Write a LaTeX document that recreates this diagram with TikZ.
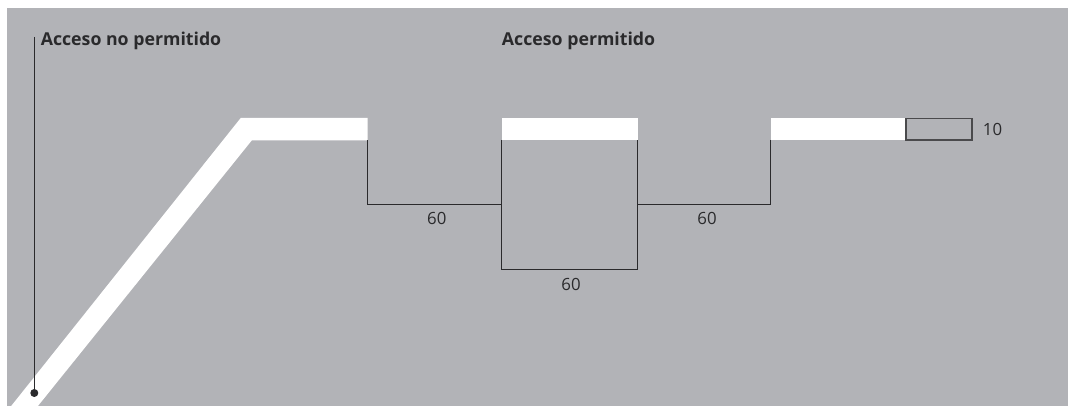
\documentclass[tikz,border=0pt]{standalone}
\usepackage{fontspec}
\setmainfont{Open Sans}
\definecolor{bg}{HTML}{B2B3B7}
\definecolor{ink}{HTML}{2A2A2C}
\definecolor{boxline}{HTML}{4A4A4C}
\begin{document}
\begin{tikzpicture}[x=0.75pt,y=-0.75pt,
  dim/.style={draw=ink,line width=0.95pt},
  num/.style={font=\fontsize{12.6}{14}\selectfont,text=ink,inner sep=0pt},
  head/.style={font=\fontsize{13.3}{15}\selectfont\bfseries,text=ink,inner sep=0pt,anchor=base west},
  bar/.style={fill=white}]
\useasboundingbox (0,0) rectangle (1068,406);
\fill[white] (0,0) rectangle (1068,406);
\fill[bg] (7,8) rectangle (1068,406);
\begin{scope}
  \clip (7,8) rectangle (1068,406);
  \fill[white] (8.8,409) -- (240.7,118) -- (367.7,118) -- (367.7,140.5) -- (251.7,140.5) -- (35.5,409) -- cycle;
\end{scope}
% white bars
\fill[bar] (501.7,118) rectangle (637.7,140.5);
\fill[bar] (770.7,118) rectangle (906,140.5);
\draw[draw=boxline,line width=1.05pt] (906,118.5) rectangle (972,140);
% coordinates
\coordinate (a1) at (367.7,140.5);
\coordinate (a2) at (501.7,204.3);
\coordinate (b1) at (501.7,140.5);
\coordinate (b2) at (637.7,140.5);
\coordinate (b3) at (501.7,269.3);
\coordinate (b4) at (637.7,269.3);
\coordinate (c1) at (637.7,204.3);
\coordinate (c2) at (770.7,140.5);
\draw[dim] (a1) |- (a2);
\draw[dim] (b1) -- (b3) -- (b4) -- (b2);
\draw[dim] (c1) -| (c2);
% labels
\node[head] (noperm) at (40.5,46) {Acceso no permitido};
\node[head] (perm) at (501.7,46) {Acceso permitido};
\node[num] (d1) at (436.8,218.8) {60};
\node[num] (d2) at (571,284.5) {60};
\node[num] (d3) at (707,218.8) {60};
\node[num,anchor=west] (d4) at (982.7,129.6) {10};
% pointer
\coordinate (ptop) at (34.3,37);
\node[circle,fill=ink,inner sep=0pt,minimum size=6pt] (dot) at (34.3,393) {};
\draw[ink,line width=0.95pt] (ptop) -- (dot.center);
\end{tikzpicture}
\end{document}
